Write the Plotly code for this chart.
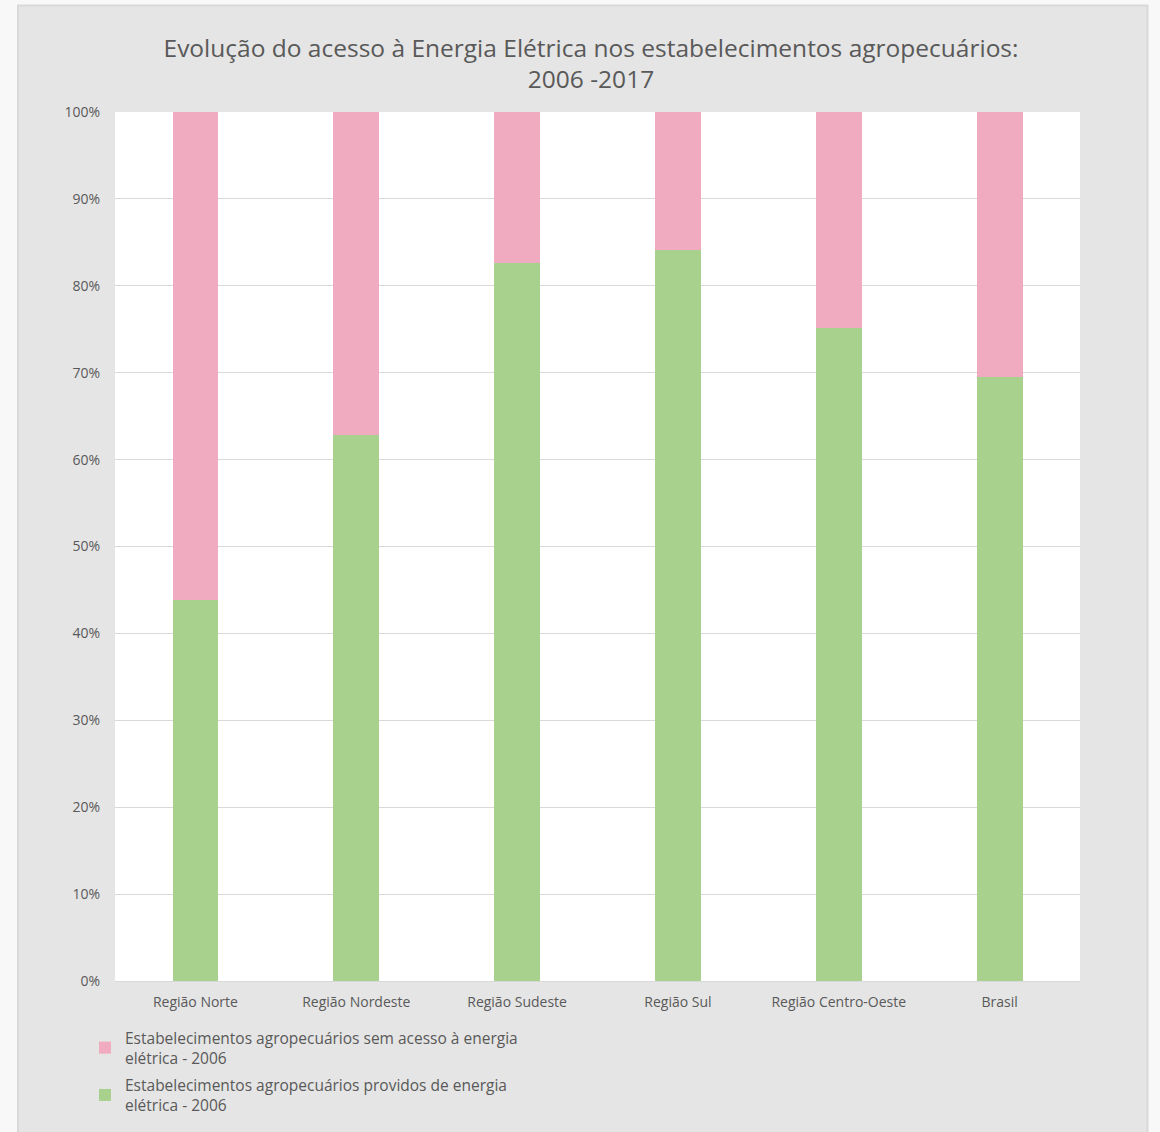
import plotly.graph_objects as go

categories = ["Região Norte", "Região Nordeste", "Região Sudeste", "Região Sul",
              "Região Centro-Oeste", "Brasil"]
providos_2006 = [43.8, 62.8, 82.6, 84.1, 75.1, 69.5]
sem_acesso_2006 = [round(100 - v, 1) for v in providos_2006]

name_sem = "Estabelecimentos agropecuários sem acesso à energia<br>elétrica - 2006"
name_prov = "Estabelecimentos agropecuários providos de energia<br>elétrica - 2006"

W, H = 1160, 1132
L, R, T, B = 115, 1080, 112, 981

fig = go.Figure()
fig.add_trace(go.Bar(x=categories, y=providos_2006, name=name_prov, legendgroup="prov",
                     legendrank=2,
                     marker=dict(color="#a9d18e", line=dict(width=0)), width=0.285))
fig.add_trace(go.Bar(x=categories, y=sem_acesso_2006, name=name_sem, legendgroup="sem",
                     legendrank=1,
                     marker=dict(color="#f1abc0", line=dict(width=0)), width=0.285))

pw = R - L
ph = B - T
def px(x):
    return (x - L) / pw
def py(y):
    return (B - y) / ph

fig.add_shape(type="rect", xref="paper", yref="paper",
              x0=px(18), x1=px(1147.5), y0=py(1145), y1=py(5.5),
              fillcolor="#e5e5e5", line=dict(color="#d9d9d9", width=2), layer="below")
fig.add_shape(type="rect", xref="paper", yref="paper",
              x0=0, x1=1, y0=0, y1=1,
              fillcolor="white", line=dict(width=0), layer="below")

font_family = "Open Sans, Noto Sans, sans-serif"
fig.update_layout(
    width=W, height=H,
    margin=dict(l=L, r=W - R, t=T, b=H - B, autoexpand=False),
    paper_bgcolor="#f8f8f8",
    plot_bgcolor="rgba(0,0,0,0)",
    barmode="stack",
    bargap=0.715,
    font=dict(family=font_family, color="#595959"),
    title=dict(text="Evolução do acesso à Energia Elétrica nos estabelecimentos agropecuários:<br>2006 -2017",
               x=px(591), xanchor="center", xref="paper",
               y=1 - 56.5 / H, yanchor="middle",
               font=dict(size=24.5, color="#595959", family=font_family)),
    legend=dict(x=px(85), xanchor="left", y=py(1021), yanchor="top",
                traceorder="grouped", tracegroupgap=4, bgcolor="rgba(0,0,0,0)",
                font=dict(size=15.5, color="#595959", family=font_family),
                itemwidth=30),
    xaxis=dict(showgrid=False, showline=True, linecolor="#d9d9d9", linewidth=1,
               ticks="", tickfont=dict(size=14, color="#595959"), fixedrange=True,
               ticklabelstandoff=8),
    yaxis=dict(range=[0, 100], dtick=10, ticksuffix="%", showgrid=True,
               gridcolor="#d9d9d9", gridwidth=1, zeroline=False, showline=False,
               tickfont=dict(size=14, color="#595959"), ticklabelstandoff=14),
    showlegend=True,
)

fig.write_html("out.html", config={"displayModeBar": False},
               post_script="document.body.style.margin='0';document.body.style.background='#f8f8f8';")
